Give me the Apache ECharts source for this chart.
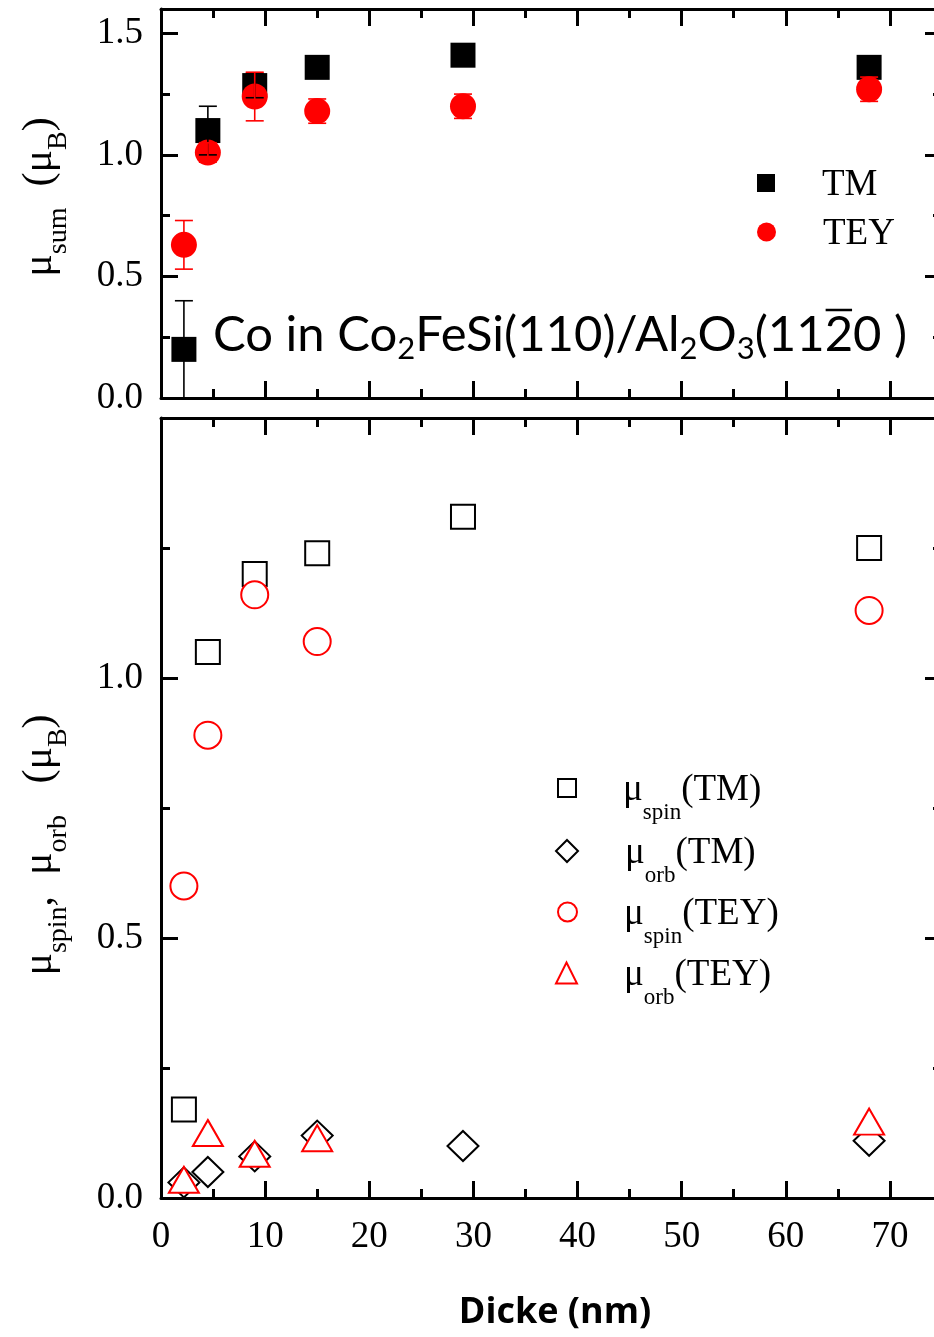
<!DOCTYPE html>
<html>
<head>
<meta charset="utf-8">
<script src="https://cdn.jsdelivr.net/npm/echarts@6/dist/echarts.min.js"></script>
<style>
  html, body { margin: 0; padding: 0; background: #fff; }
  #chart { width: 934px; height: 1337px; }
</style>
</head>
<body>
<div id="chart"></div>
<script>
// Film thickness (nm) of the Co2FeSi samples
const thickness = [2.2, 4.5, 9, 15, 29, 68];

// Upper panel: summed moment with error bars
const sumTM = [0.2, 1.1, 1.285, 1.36, 1.41, 1.36];
const sumTMErr = [0.2, 0.1, 0.05, 0.03, 0.03, 0.03];
const sumTEY = [0.63, 1.01, 1.24, 1.18, 1.2, 1.27];
const sumTEYErr = [0.1, 0.04, 0.1, 0.05, 0.05, 0.05];

// Lower panel: spin and orbital moments
const spinTM = [0.17, 1.05, 1.2, 1.24, 1.31, 1.25];
const orbTM = [0.03, 0.05, 0.08, 0.12, 0.1, 0.11];
const spinTEY = [0.6, 0.89, 1.16, 1.07, null, 1.13];
const orbTEY = [0.035, 0.125, 0.085, 0.115, null, 0.147];

// Tick positions
const xMajorTicks = [0, 10, 20, 30, 40, 50, 60, 70];
const xMinorTicks = [5, 15, 25, 35, 45, 55, 65];
const yMajorTicks = [0, 0.5, 1.0, 1.5];
const yMinorTicks = [0.25, 0.75, 1.25];

const SERIF = '"Liberation Serif", "Times New Roman", serif';
const SANS = 'Lato, "Open Sans", sans-serif';
const FS = 37;
const RED = '#ff0000';

const pairs = (ys) => thickness.map((x, i) => ys[i] == null ? null : [x, ys[i]]).filter(Boolean);
const errRows = (ys, es) => thickness.map((x, i) => [x, ys[i] - es[i], ys[i] + es[i]]);

// One edge of a frame: a "major" axis carries the frame line and long ticks,
// a "minor" axis carries only the short ticks.
function edgeAxis(grid, pos, min, max, ticks, major, labelTicks, fmt, margin) {
  return {
    type: 'value', gridIndex: grid, position: pos, min: min, max: max,
    axisLine: { show: major, onZero: false, lineStyle: { color: '#000', width: 3 } },
    axisTick: { show: true, inside: true, length: major ? 17 : 9, customValues: ticks,
      lineStyle: { color: '#000', width: 3 } },
    axisLabel: labelTicks ? { show: true, customValues: labelTicks, formatter: fmt, color: '#000',
      fontFamily: SERIF, fontSize: FS, margin: margin } : { show: false },
    splitLine: { show: false }
  };
}

const xFmt = (v) => String(Math.round(v));
const yFmt = (v) => v.toFixed(1);

const xAxes = [];
const yAxes = [];
[[0, 1.6, null, yMajorTicks], [0, 1.5, xMajorTicks, [0, 0.5, 1.0]]].forEach(([ymin, ymax, xLab, yLab], g) => {
  xAxes.push(edgeAxis(g, 'bottom', 0, 75, xMajorTicks, true, xLab, xFmt, 21));
  xAxes.push(edgeAxis(g, 'bottom', 0, 75, xMinorTicks, false));
  xAxes.push(edgeAxis(g, 'top', 0, 75, xMajorTicks, true));
  xAxes.push(edgeAxis(g, 'top', 0, 75, xMinorTicks, false));
  yAxes.push(edgeAxis(g, 'left', ymin, ymax, yMajorTicks, true, yLab, yFmt, 18));
  yAxes.push(edgeAxis(g, 'left', ymin, ymax, yMinorTicks, false));
  yAxes.push(edgeAxis(g, 'right', ymin, ymax, yMajorTicks, true));
  yAxes.push(edgeAxis(g, 'right', ymin, ymax, yMinorTicks, false));
});

function errorBars(rows, color, xi, yi, name) {
  return {
    type: 'custom', name: name, xAxisIndex: xi, yAxisIndex: yi, data: rows,
    encode: { x: 0, y: [1, 2] }, silent: true, z: 5,
    renderItem: (params, api) => {
      const x = api.value(0);
      const lo = api.coord([x, api.value(1)]);
      const hi = api.coord([x, api.value(2)]);
      const w = 9;
      const st = { stroke: color, lineWidth: 1.6 };
      return { type: 'group', children: [
        { type: 'line', shape: { x1: lo[0], y1: lo[1], x2: hi[0], y2: hi[1] }, style: st },
        { type: 'line', shape: { x1: lo[0] - w, y1: lo[1], x2: lo[0] + w, y2: lo[1] }, style: st },
        { type: 'line', shape: { x1: hi[0] - w, y1: hi[1], x2: hi[0] + w, y2: hi[1] }, style: st }
      ] };
    }
  };
}

const solid = (c) => ({ color: c, opacity: 1 });
const hollow = (c) => ({ color: '#fff', borderColor: c, borderWidth: 2, opacity: 1 });

const series = [
  { name: 'TM', type: 'scatter', xAxisIndex: 0, yAxisIndex: 0, data: pairs(sumTM),
    symbol: 'rect', symbolSize: 25, itemStyle: solid('#000'), z: 3 },
  { name: 'TEY', type: 'scatter', xAxisIndex: 0, yAxisIndex: 0, data: pairs(sumTEY),
    symbol: 'circle', symbolSize: 26, itemStyle: solid(RED), z: 3 },
  errorBars(errRows(sumTM, sumTMErr), '#000', 0, 0, 'errTM'),
  errorBars(errRows(sumTEY, sumTEYErr), RED, 0, 0, 'errTEY'),

  { name: 'spinTM', type: 'scatter', xAxisIndex: 4, yAxisIndex: 4, data: pairs(spinTM),
    symbol: 'rect', symbolSize: 24, itemStyle: hollow('#000'), z: 3 },
  { name: 'orbTM', type: 'scatter', xAxisIndex: 4, yAxisIndex: 4, data: pairs(orbTM),
    symbol: 'diamond', symbolSize: [31, 30], itemStyle: hollow('#000'), z: 3 },
  { name: 'spinTEY', type: 'scatter', xAxisIndex: 4, yAxisIndex: 4, data: pairs(spinTEY),
    symbol: 'circle', symbolSize: 27, itemStyle: hollow(RED), z: 3 },
  { name: 'orbTEY', type: 'scatter', xAxisIndex: 4, yAxisIndex: 4, data: pairs(orbTEY),
    symbol: 'triangle', symbolSize: [30, 26], itemStyle: hollow(RED), z: 3 }
];

// Legend text with subscripts
const legendRich = {
  g: { width: 42 },
  m: { fontFamily: SERIF, fontSize: FS, color: '#000', verticalAlign: 'top', lineHeight: 40, padding: [4, 0, 0, 0] },
  s: { fontFamily: SERIF, fontSize: 23, color: '#000', verticalAlign: 'top', lineHeight: 24, padding: [33, 0, 0, 0] }
};
const legendLabels = {
  TM: '{g| }{m|TM}', TEY: '{g| }{m|TEY}',
  spinTM: '{g| }{m|μ}{s|spin}{m|(TM)}', orbTM: '{g| }{m|μ}{s|orb}{m|(TM)}',
  spinTEY: '{g| }{m|μ}{s|spin}{m|(TEY)}', orbTEY: '{g| }{m|μ}{s|orb}{m|(TEY)}'
};
function legendAt(name, left, top, size) {
  return {
    data: [name], left: left, top: top, padding: 0, orient: 'vertical',
    itemWidth: size, itemHeight: size, selectedMode: false,
    formatter: (n) => legendLabels[n],
    textStyle: { rich: legendRich }
  };
}
const legends = [
  legendAt('TM', 757, 163, 18), legendAt('TEY', 757, 212, 19),
  legendAt('spinTM', 557, 768, 18), legendAt('orbTM', 555, 831, 22),
  legendAt('spinTEY', 557, 892, 19), legendAt('orbTEY', 555, 953, 21)
];

// Y titles (rotated) with subscripts
const titleRich = {
  m: { fontFamily: SERIF, fontSize: 42, color: '#000', verticalAlign: 'top', lineHeight: 46 },
  s: { fontFamily: SERIF, fontSize: 28, color: '#000', verticalAlign: 'top', lineHeight: 30, padding: [26, 0, 0, 0] }
};

// Sample annotation: pieces are measured so the bar over the "2" sits on that digit
const ANN_MAIN = 'normal 49px ' + SANS;
const ANN_SUB = 'normal 31px ' + SANS;
const annPieces = [
  ['a', 'Co in Co'], ['b', '2'], ['a', 'FeSi(110)/Al'], ['b', '2'], ['a', 'O'], ['b', '3'],
  ['a', '(11'], ['a', '2'], ['a', '0 )']
];
const mctx = document.createElement('canvas').getContext('2d');
const textWidth = (font, s) => { mctx.font = font; return mctx.measureText(s).width; };
const ANN_X = 213;
let barStart = ANN_X;
for (let i = 0; i < 7; i++) {
  barStart += textWidth(annPieces[i][0] === 'a' ? ANN_MAIN : ANN_SUB, annPieces[i][1]);
}
const barWidth = textWidth(ANN_MAIN, '2');

const graphics = [
  { type: 'text', x: 42, y: 197, rotation: Math.PI / 2,
    style: { text: '{m|μ}{s|sum}{m|  (μ}{s|B}{m|)}', align: 'center', verticalAlign: 'middle', rich: titleRich } },
  { type: 'text', x: 42, y: 845, rotation: Math.PI / 2,
    style: { text: '{m|μ}{s|spin}{m|,  μ}{s|orb}{m|   (μ}{s|B}{m|)}', align: 'center', verticalAlign: 'middle', rich: titleRich } },
  { type: 'text', x: ANN_X, y: 311,
    style: { text: annPieces.map(([k, s]) => '{' + k + '|' + s + '}').join(''), align: 'left', verticalAlign: 'top',
      rich: {
        a: { fontFamily: SANS, fontSize: 49, color: '#000', verticalAlign: 'top', lineHeight: 52 },
        b: { fontFamily: SANS, fontSize: 31, color: '#000', verticalAlign: 'top', lineHeight: 32, padding: [22, 0, 0, 0] }
      } } },
  { type: 'line', shape: { x1: barStart + 1, y1: 310, x2: barStart + barWidth - 1, y2: 310 },
    style: { stroke: '#000', lineWidth: 2.5 } },
  { type: 'text', x: 555, y: 1313,
    style: { text: 'Dicke (nm)', align: 'center', verticalAlign: 'middle',
      fontFamily: '"Open Sans", Lato, sans-serif', fontWeight: 'bold', fontSize: 36, fill: '#000' } }
];

const chart = echarts.init(document.getElementById('chart'), null, { renderer: 'canvas' });
chart.setOption({
  animation: false,
  backgroundColor: '#fff',
  textStyle: { fontFamily: SERIF },
  grid: [
    { left: 161, top: 9, width: 781, height: 389, outerBoundsMode: 'none', containLabel: false },
    { left: 161, top: 418, width: 781, height: 780, outerBoundsMode: 'none', containLabel: false }
  ],
  xAxis: xAxes,
  yAxis: yAxes,
  legend: legends,
  series: series,
  graphic: graphics
});
</script>
</body>
</html>
